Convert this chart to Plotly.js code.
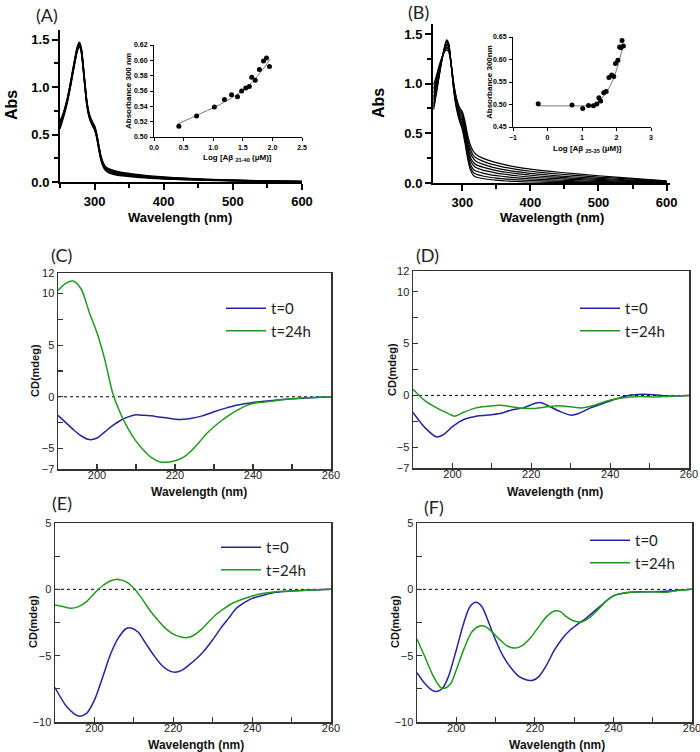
<!DOCTYPE html>
<html><head><meta charset="utf-8">
<script src="https://cdn.plot.ly/plotly-3.0.1.min.js"></script>
<style>html,body{margin:0;padding:0;background:#fff}#chart{width:700px;height:752px}</style>
</head><body><div id="chart"></div><script>
// ---------- Panel A: UV-Vis spectra ----------
const WL_A = [250,255,260,265,270,275,278,281,285,289,293,297,300,303,306,309,312,316,320,330,340,350,365,380,400,430,460,500,550,600];
const ABS_A1 = [0.56,0.68,0.82,1.00,1.20,1.38,1.43,1.36,1.08,0.80,0.66,0.59,0.55,0.47,0.35,0.24,0.17,0.12,0.10,0.075,0.065,0.058,0.048,0.040,0.032,0.024,0.018,0.012,0.006,0.002];
const ABS_A2 = [0.58,0.70,0.83,1.01,1.21,1.39,1.44,1.37,1.09,0.81,0.67,0.60,0.56,0.48,0.36,0.25,0.18,0.13,0.11,0.085,0.074,0.066,0.055,0.046,0.037,0.028,0.021,0.014,0.008,0.003];
const ABS_A3 = [0.60,0.71,0.84,1.02,1.22,1.40,1.45,1.38,1.10,0.82,0.68,0.61,0.57,0.49,0.37,0.26,0.19,0.14,0.12,0.095,0.083,0.074,0.062,0.052,0.042,0.032,0.024,0.016,0.009,0.004];
const ABS_A4 = [0.62,0.72,0.85,1.03,1.23,1.41,1.46,1.39,1.11,0.83,0.69,0.62,0.58,0.50,0.38,0.27,0.20,0.15,0.13,0.105,0.092,0.082,0.069,0.058,0.047,0.036,0.027,0.018,0.010,0.005];
const ABS_A5 = [0.64,0.73,0.86,1.04,1.24,1.42,1.47,1.40,1.12,0.84,0.70,0.63,0.59,0.51,0.39,0.28,0.21,0.16,0.14,0.115,0.100,0.090,0.076,0.064,0.052,0.040,0.030,0.020,0.011,0.006];

// Inset A
const LOG_A = [0.42,0.72,1.02,1.19,1.31,1.41,1.48,1.55,1.61,1.65,1.71,1.78,1.85,1.90,1.95];
const A300_A = [0.514,0.5275,0.539,0.549,0.555,0.5524,0.560,0.564,0.566,0.578,0.574,0.588,0.599,0.603,0.592];
const FIT_A_X = [0.40,0.80,1.20,1.60,1.96];
const FIT_A_Y = [0.517,0.531,0.546,0.567,0.601];

// ---------- Panel B ----------
const WL_B = [258,262,266,270,274,277,280,284,288,292,296,300,304,308,312,316,320,330,340,350,365,380,400,430,460,500,550,600];
const ABS_B1 = [0.74,0.90,1.07,1.23,1.37,1.44,1.41,1.17,0.90,0.73,0.62,0.54,0.40,0.24,0.13,0.08,0.06,0.045,0.035,0.028,0.02,0.015,0.01,0.006,0.004,0.002,0.001,0.0];
const ABS_B2 = [0.77,0.92,1.08,1.24,1.37,1.43,1.40,1.17,0.91,0.74,0.64,0.56,0.43,0.27,0.16,0.11,0.09,0.07,0.058,0.05,0.04,0.032,0.025,0.018,0.013,0.008,0.004,0.002];
const ABS_B3 = [0.80,0.94,1.09,1.24,1.36,1.42,1.39,1.17,0.92,0.76,0.66,0.59,0.46,0.30,0.19,0.14,0.12,0.10,0.085,0.075,0.062,0.052,0.042,0.032,0.024,0.016,0.009,0.004];
const ABS_B4 = [0.84,0.97,1.11,1.24,1.35,1.40,1.38,1.17,0.93,0.77,0.68,0.62,0.50,0.34,0.23,0.18,0.155,0.13,0.115,0.10,0.086,0.073,0.06,0.047,0.037,0.026,0.015,0.007];
const ABS_B5 = [0.87,0.99,1.12,1.25,1.34,1.39,1.37,1.17,0.94,0.79,0.70,0.65,0.53,0.37,0.26,0.21,0.185,0.16,0.142,0.125,0.108,0.094,0.078,0.062,0.05,0.036,0.022,0.01];
const ABS_B6 = [0.91,1.02,1.14,1.25,1.34,1.37,1.35,1.18,0.95,0.81,0.72,0.68,0.56,0.41,0.30,0.25,0.22,0.19,0.168,0.15,0.13,0.114,0.096,0.078,0.063,0.047,0.029,0.014];
const ABS_B7 = [0.95,1.05,1.16,1.26,1.33,1.36,1.34,1.18,0.97,0.83,0.74,0.70,0.59,0.44,0.34,0.28,0.255,0.22,0.195,0.178,0.155,0.137,0.118,0.097,0.08,0.06,0.038,0.018];
const ABS_B8 = [0.99,1.08,1.18,1.26,1.32,1.34,1.32,1.18,0.98,0.84,0.76,0.72,0.62,0.48,0.38,0.32,0.29,0.25,0.225,0.205,0.18,0.16,0.14,0.116,0.096,0.073,0.046,0.022];

// Inset B
const LOG_B = [-0.27,0.71,1.02,1.19,1.33,1.43,1.49,1.54,1.63,1.70,1.78,1.86,1.92,1.97,2.04,2.09,2.13,2.16,2.20];
const A300_B = [0.5015,0.499,0.491,0.498,0.497,0.501,0.515,0.508,0.526,0.529,0.560,0.5655,0.562,0.591,0.5985,0.628,0.626,0.642,0.630];
const FIT_B_X = [-0.3,0.5,1.0,1.3,1.5,1.7,1.9,2.1,2.2];
const FIT_B_Y = [0.497,0.497,0.497,0.499,0.508,0.527,0.555,0.603,0.634];

// ---------- Panel C ----------
const C_T0_X = [190,192,194,196,198,200,202,204,206,208,210,212,215,218,221,224,227,230,233,236,240,245,250,255,260];
const C_T0_Y = [-1.8,-2.5,-3.2,-3.8,-4.15,-4.0,-3.4,-2.8,-2.3,-1.95,-1.75,-1.8,-1.9,-2.05,-2.2,-2.1,-1.85,-1.45,-1.1,-0.8,-0.55,-0.35,-0.2,-0.1,0];
const C_T24_X = [190,192,194,196,198,200,202,204,206,208,210,212,214,216,218,220,222,224,226,228,230,232,234,236,238,240,243,246,250,255,260];
const C_T24_Y = [10.3,11.0,11.2,10.4,8.2,6.2,3.6,0.4,-1.6,-3.1,-4.3,-5.2,-5.9,-6.3,-6.35,-6.2,-5.9,-5.3,-4.5,-3.6,-2.9,-2.3,-1.75,-1.3,-0.9,-0.65,-0.5,-0.35,-0.2,-0.08,0];

// ---------- Panel D ----------
const D_T0_X = [190,193,196,198,200,203,206,209,212,215,218,221,222.5,224,227,230,232,235,238,241,244,247,250,253,256,260];
const D_T0_Y = [-1.65,-3.1,-4.0,-3.7,-3.0,-2.3,-2.0,-1.9,-1.75,-1.4,-1.2,-0.75,-0.7,-0.95,-1.5,-1.9,-1.75,-1.2,-0.8,-0.4,-0.05,0.1,0.1,0.0,-0.05,0];
const D_T24_X = [190,193,196,199,200.5,203,206,209,212,215,218,221,224,227,230,233,236,239,242,245,248,251,254,257,260];
const D_T24_Y = [0.6,-0.5,-1.2,-1.75,-2.0,-1.6,-1.2,-1.05,-0.95,-1.1,-1.25,-1.25,-1.1,-1.0,-1.1,-1.2,-0.95,-0.55,-0.3,-0.15,-0.1,-0.15,-0.1,-0.03,0];

// ---------- Panel E ----------
const E_T0_X = [190,193,196,198,200,202,204,206,208,209,211,213,215,217,219,220.5,222,224,226,228,230,232,234,236,238,240,243,246,250,255,260];
const E_T0_Y = [-7.4,-8.85,-9.55,-9.35,-8.35,-6.7,-4.95,-3.7,-2.97,-2.9,-3.2,-4.07,-4.95,-5.7,-6.15,-6.25,-6.13,-5.7,-5.2,-4.57,-3.8,-2.94,-2.19,-1.43,-1.0,-0.68,-0.43,-0.23,-0.13,-0.05,0];
const E_T24_X = [190,192,194,196,198,200,202,204,206,208,210,212,214,216,218,220,222,223.5,225,227,229,231,233,235,237,240,243,246,250,255,260];
const E_T24_Y = [-1.18,-1.3,-1.43,-1.3,-0.93,-0.3,0.25,0.63,0.75,0.58,0.08,-0.68,-1.56,-2.3,-2.94,-3.37,-3.6,-3.64,-3.5,-3.06,-2.44,-1.86,-1.43,-1.05,-0.8,-0.5,-0.3,-0.18,-0.13,-0.05,0];

// ---------- Panel F ----------
const F_T0_X = [190,192,194,195,196.5,198,200,202,203.5,205,206.5,208,210,212,214,216,218,219.5,221,223,225,227,229,231,233,235,237,239,241,244,247,250,254,257,260];
const F_T0_Y = [-6.28,-7.1,-7.64,-7.7,-7.46,-6.58,-4.57,-2.44,-1.3,-0.98,-1.3,-2.31,-3.82,-5.08,-5.95,-6.58,-6.83,-6.86,-6.58,-5.7,-4.57,-3.7,-3.07,-2.6,-2.19,-1.68,-1.18,-0.68,-0.38,-0.23,-0.18,-0.18,-0.13,-0.05,0];
const F_T24_X = [190,192,194,196,197,198.5,200,202,204,206,207.5,209,211,213,215,217,219,221,223,225,226.5,228,230,232,234,236,238,240,243,246,250,253,256,260];
const F_T24_Y = [-3.74,-5.08,-6.46,-7.39,-7.46,-7.14,-6.08,-4.45,-3.19,-2.76,-2.81,-3.19,-3.77,-4.27,-4.42,-4.2,-3.62,-2.81,-2.06,-1.63,-1.68,-2.06,-2.39,-2.44,-2.11,-1.56,-0.93,-0.48,-0.25,-0.2,-0.18,-0.23,-0.1,0];

// tick labels
const CD_Y_TICKS_CD = [-7,-5,0,5,10,12];
const CD_Y_MINOR_CD = [-2.5,2.5,7.5];
const CD_Y_TICKS_EF = [-10,-5,0,5];
const CD_Y_MINOR_EF = [-7.5,-2.5,2.5];
const CD_X_TICKS = [200,220,240,260];
const CD_X_MINOR = [210,230,250];

// ---------- layout helpers ----------
const W = 700, H = 752;
const px = v => v / W;
const py = v => 1 - v / H;
const BLUE = '#24249c', GREEN = '#1f9a1f';
const ARIAL = 'Liberation Sans, Arial, sans-serif';
const CAL = 'Lato, Open Sans, sans-serif';

const traces = [];
function spectra(list, xa, ya, wl, w) {
  list.forEach(arr => traces.push({x: wl, y: arr, xaxis: xa, yaxis: ya, type: 'scatter', mode: 'lines',
    line: {color: '#000', width: w, shape: 'spline', smoothing: 0.6}, showlegend: false, hoverinfo: 'skip'}));
}
spectra([ABS_A1, ABS_A2, ABS_A3, ABS_A4, ABS_A5], 'x', 'y', WL_A, 1.5);
traces.push({x: FIT_A_X, y: FIT_A_Y, xaxis: 'x2', yaxis: 'y2', mode: 'lines', line: {color: '#777', width: 1, shape: 'spline'}, showlegend: false});
traces.push({x: LOG_A, y: A300_A, xaxis: 'x2', yaxis: 'y2', mode: 'markers', marker: {color: '#000', size: 5}, showlegend: false});
spectra([ABS_B1, ABS_B2, ABS_B3, ABS_B4, ABS_B5, ABS_B6, ABS_B7, ABS_B8], 'x3', 'y3', WL_B, 1.2);
traces.push({x: FIT_B_X, y: FIT_B_Y, xaxis: 'x4', yaxis: 'y4', mode: 'lines', line: {color: '#777', width: 1, shape: 'spline'}, showlegend: false});
traces.push({x: LOG_B, y: A300_B, xaxis: 'x4', yaxis: 'y4', mode: 'markers', marker: {color: '#000', size: 5}, showlegend: false});

function cd(x0, y0, x24, y24, xa, ya, lg) {
  traces.push({x: x0, y: y0, xaxis: xa, yaxis: ya, mode: 'lines', name: 't=0', legend: lg,
    line: {color: BLUE, width: 1.5, shape: 'spline', smoothing: 0.8}});
  traces.push({x: x24, y: y24, xaxis: xa, yaxis: ya, mode: 'lines', name: 't=24h', legend: lg,
    line: {color: GREEN, width: 1.5, shape: 'spline', smoothing: 0.8}});
}
cd(C_T0_X, C_T0_Y, C_T24_X, C_T24_Y, 'x5', 'y5', 'legend');
cd(D_T0_X, D_T0_Y, D_T24_X, D_T24_Y, 'x6', 'y6', 'legend2');
cd(E_T0_X, E_T0_Y, E_T24_X, E_T24_Y, 'x7', 'y7', 'legend3');
cd(F_T0_X, F_T0_Y, F_T24_X, F_T24_Y, 'x8', 'y8', 'legend4');

function absAxis(dom, rng, anchor, dtick, minorDt, fmt) {
  return {domain: dom, range: rng, anchor: anchor, showgrid: false, zeroline: false,
    showline: true, linecolor: '#000', linewidth: 2, ticks: 'outside', ticklen: 6, tickwidth: 2, tickcolor: '#000',
    tick0: 0, dtick: dtick, tickformat: fmt, ticklabeloverflow: 'allow',
    minor: {dtick: minorDt, ticks: 'outside', ticklen: 4, tickwidth: 2, tickcolor: '#000'},
    tickfont: {family: ARIAL, size: 13, weight: 'bold', color: '#000'}};
}
function insetAxis(dom, rng, anchor, dtick, fmt) {
  return {domain: dom, range: rng, anchor: anchor, showgrid: false, zeroline: false,
    showline: true, linecolor: '#000', linewidth: 1, ticks: 'outside', ticklen: 3, tickwidth: 1, tickcolor: '#000',
    tick0: 0, dtick: dtick, tickformat: fmt, ticklabelstandoff: 1, ticklabeloverflow: 'allow',
    tickfont: {family: ARIAL, size: 7, weight: 'bold', color: '#000'}};
}
function cdAxis(dom, rng, anchor, vals, minorVals, standoff) {
  return {domain: dom, range: rng, anchor: anchor, showgrid: false, zeroline: false,
    showline: true, mirror: true, linecolor: '#333', linewidth: 1.5, ticks: 'inside', ticklen: 5, tickwidth: 1.2, tickcolor: '#333',
    tickmode: 'array', tickvals: vals, ticklabelstandoff: standoff, ticklabeloverflow: 'allow',
    minor: {tickmode: 'array', tickvals: minorVals, ticks: 'inside', ticklen: 5, tickwidth: 1.2, tickcolor: '#333'},
    tickfont: {family: ARIAL, size: 11, color: '#222'}};
}
function legendAt(x, y) {
  return {x: px(x), y: py(y), xanchor: 'left', yanchor: 'top', bgcolor: 'rgba(0,0,0,0)',
    font: {family: CAL, size: 15, color: '#222'}, tracegroupgap: 0, itemwidth: 40};
}

const layout = {
  width: W, height: H, margin: {l: 0, r: 0, t: 0, b: 0},
  paper_bgcolor: '#fff', plot_bgcolor: 'rgba(0,0,0,0)', showlegend: true,
  xaxis: absAxis([px(60), px(302)], [250, 600], 'y', 100, 50, 'd'),
  yaxis: absAxis([py(182), py(30)], [0, 1.6], 'x', 0.5, 0.25, '.1f'),
  xaxis2: insetAxis([px(154), px(302)], [0, 2.5], 'y2', 0.5, '.1f'),
  yaxis2: insetAxis([py(137), py(45)], [0.50, 0.62], 'x2', 0.02, '.2f'),
  xaxis3: absAxis([px(433), px(670)], [257, 605], 'y3', 100, 50, 'd'),
  yaxis3: absAxis([py(183), py(24)], [0, 1.6], 'x3', 0.5, 0.25, '.1f'),
  xaxis4: insetAxis([px(513), px(651)], [-1, 3], 'y4', 1, 'd'),
  yaxis4: insetAxis([py(127), py(37)], [0.45, 0.65], 'x4', 0.05, '.2f'),
  xaxis5: cdAxis([px(58), px(331)], [190, 260], 'y5', CD_X_TICKS, CD_X_MINOR, -5),
  yaxis5: cdAxis([py(469), py(273)], [-7, 12], 'x5', CD_Y_TICKS_CD, CD_Y_MINOR_CD, 0),
  xaxis6: cdAxis([px(413), px(689)], [190, 260], 'y6', CD_X_TICKS, CD_X_MINOR, -5),
  yaxis6: cdAxis([py(468), py(271)], [-7, 12], 'x6', CD_Y_TICKS_CD, CD_Y_MINOR_CD, 0),
  xaxis7: cdAxis([px(55), px(331)], [190, 260], 'y7', CD_X_TICKS, CD_X_MINOR, -5),
  yaxis7: cdAxis([py(722), py(523)], [-10, 5], 'x7', CD_Y_TICKS_EF, CD_Y_MINOR_EF, 0),
  xaxis8: cdAxis([px(417), px(692)], [190, 260], 'y8', CD_X_TICKS, CD_X_MINOR, -5),
  yaxis8: cdAxis([py(722), py(523)], [-10, 5], 'x8', CD_Y_TICKS_EF, CD_Y_MINOR_EF, 0),
  legend: legendAt(221, 292),
  legend2: legendAt(575, 292),
  legend3: legendAt(216, 531),
  legend4: legendAt(585, 524),
  shapes: ['5', '6', '7', '8'].map(n => ({type: 'line', xref: 'x' + n + ' domain', x0: 0, x1: 1,
    yref: 'y' + n, y0: 0, y1: 0, line: {color: '#000', width: 1, dash: 'dot'}, layer: 'below'})),
  annotations: []
};

function ann(text, x, y, font, angle) {
  layout.annotations.push({text: text, xref: 'paper', yref: 'paper', x: px(x), y: py(y),
    xanchor: 'center', yanchor: 'middle', showarrow: false, font: font, textangle: angle || 0});
}
const panelFont = {family: CAL, size: 18, color: '#222'};
ann('(A)', 47, 15, panelFont); ann('(B)', 418, 12, panelFont);
ann('(C)', 61, 255, panelFont); ann('(D)', 427, 255, panelFont);
ann('(E)', 62, 503, panelFont); ann('(F)', 434, 507, panelFont);

const absTitle = {family: ARIAL, size: 16, weight: 'bold', color: '#000'};
const wlTitle = {family: ARIAL, size: 13, weight: 'bold', color: '#000'};
ann('Abs', 11, 105, absTitle, -90); ann('Abs', 378, 103, absTitle, -90);
ann('Wavelength (nm)', 180, 217, wlTitle); ann('Wavelength (nm)', 552, 217, wlTitle);

const inTitle = {family: ARIAL, size: 8, weight: 'bold', color: '#000'};
ann('Absorbance 300 nm', 128, 91, inTitle, -90);
ann('Log [Aβ <sub>21-40</sub> (μM)]', 237, 158, inTitle);
ann('Absorbance 300nm', 489, 82, inTitle, -90);
ann('Log [Aβ <sub>25-35</sub> (μM)]', 587, 149, inTitle);

const cdTitle = {family: ARIAL, size: 11, weight: 'bold', color: '#111'};
const cdWl = {family: ARIAL, size: 12, weight: 'bold', color: '#111'};
ann('CD(mdeg)', 35, 371, cdTitle, -90); ann('CD(mdeg)', 392, 370, cdTitle, -90);
ann('CD(mdeg)', 33, 622, cdTitle, -90); ann('CD(mdeg)', 395, 622, cdTitle, -90);
ann('Wavelength (nm)', 199, 492, cdWl); ann('Wavelength (nm)', 555, 492, cdWl);
ann('Wavelength (nm)', 196, 745, cdWl); ann('Wavelength (nm)', 557, 745, cdWl);

Plotly.newPlot('chart', traces, layout, {staticPlot: true, displayModeBar: false});
</script></body></html>
